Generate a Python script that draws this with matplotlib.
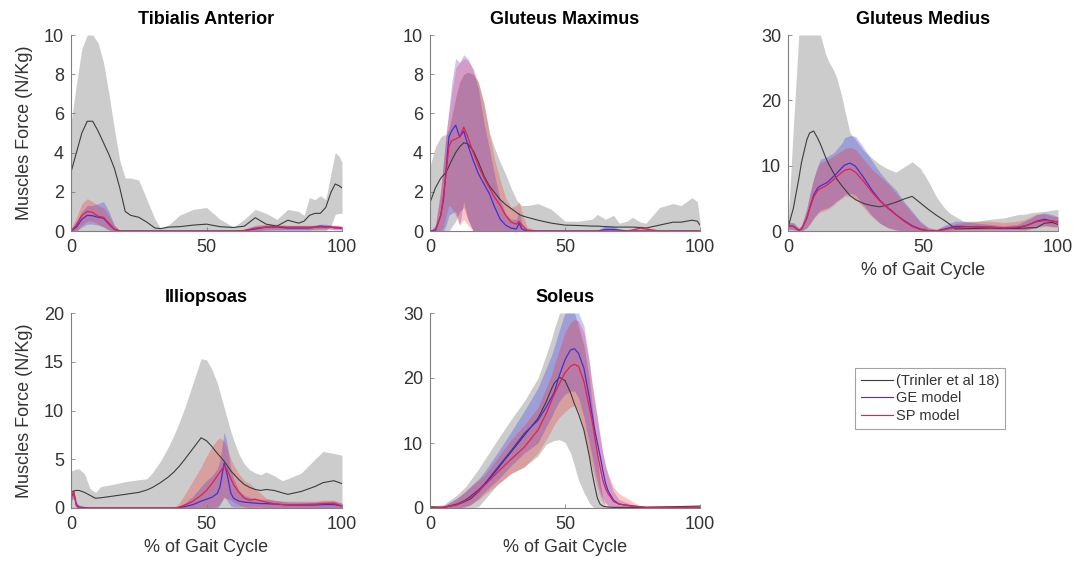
import numpy as np
import matplotlib
matplotlib.use("Agg")
import matplotlib.pyplot as plt

plt.rcParams['font.family'] = ['Liberation Sans', 'DejaVu Sans']

# ---- Tibialis Anterior ----
ta_x = [0, 2, 4, 6, 8, 10, 12, 14, 16, 18, 20, 22, 25, 28, 31, 33, 36, 40, 45, 50, 55, 60,
        64, 68, 72, 76, 80, 84, 86, 88, 90, 92, 94, 96, 97.5, 99, 100]
ta_exp_mean = [3.0, 4.0, 5.0, 5.6, 5.6, 5.1, 4.5, 3.9, 3.2, 2.2, 1.0, 0.8, 0.7, 0.45, 0.15, 0.12, 0.2, 0.22, 0.3, 0.35, 0.22, 0.18,
               0.25, 0.68, 0.35, 0.25, 0.55, 0.4, 0.5, 0.8, 0.9, 0.9, 1.2, 2.0, 2.4, 2.3, 2.2]
ta_exp_hi = [5.5, 7.5, 9.3, 10.0, 10.0, 9.6, 8.6, 7.0, 5.2, 3.6, 2.7, 2.7, 2.6, 1.6, 0.6, 0.15, 0.3, 0.8, 1.1, 1.2, 0.6, 0.2,
             0.6, 1.1, 0.9, 0.6, 1.1, 1.0, 0.8, 1.7, 1.6, 1.8, 1.6, 3.0, 4.0, 3.8, 3.5]
ta_exp_lo = [0, 0, 0, 0, 0, 0, 0, 0, 0, 0, 0, 0, 0, 0, 0, 0, 0, 0, 0, 0, 0, 0,
             0, 0, 0, 0, 0, 0, 0, 0, 0, 0, 0, 0.3, 0.85, 0.9, 0.9]
ta_ge_mean = [0, 0.2, 0.6, 0.8, 0.78, 0.7, 0.65, 0.35, 0.08, 0, 0, 0, 0, 0, 0, 0, 0, 0, 0, 0, 0, 0,
              0.02, 0.1, 0.2, 0.2, 0.15, 0.15, 0.15, 0.15, 0.2, 0.25, 0.22, 0.2, 0.15, 0.15, 0.15]
ta_ge_hi = [0.1, 0.5, 1.0, 1.3, 1.3, 1.4, 1.5, 1.0, 0.3, 0, 0, 0, 0, 0, 0, 0, 0, 0, 0, 0, 0, 0,
            0.1, 0.25, 0.3, 0.3, 0.25, 0.25, 0.25, 0.25, 0.3, 0.35, 0.35, 0.3, 0.25, 0.25, 0.25]
ta_ge_lo = [0, 0, 0.2, 0.35, 0.35, 0.3, 0.2, 0.05, 0, 0, 0, 0, 0, 0, 0, 0, 0, 0, 0, 0, 0, 0,
            0, 0, 0.05, 0.05, 0.05, 0.05, 0.05, 0.05, 0.1, 0.1, 0.1, 0.1, 0.05, 0.05, 0.05]
ta_sp_mean = [0, 0.3, 0.8, 1.0, 0.95, 0.75, 0.7, 0.4, 0.1, 0, 0, 0, 0, 0, 0, 0, 0, 0, 0, 0, 0, 0,
              0.02, 0.15, 0.2, 0.22, 0.2, 0.2, 0.2, 0.2, 0.2, 0.2, 0.2, 0.2, 0.2, 0.18, 0.15]
ta_sp_hi = [0.1, 0.7, 1.4, 1.65, 1.5, 1.3, 1.2, 0.8, 0.3, 0.05, 0, 0, 0, 0, 0, 0, 0, 0, 0, 0, 0, 0,
            0.1, 0.3, 0.35, 0.35, 0.3, 0.3, 0.3, 0.3, 0.3, 0.3, 0.3, 0.3, 0.3, 0.3, 0.25]
ta_sp_lo = [0, 0, 0.3, 0.5, 0.5, 0.35, 0.2, 0.05, 0, 0, 0, 0, 0, 0, 0, 0, 0, 0, 0, 0, 0, 0,
            0, 0.02, 0.05, 0.08, 0.08, 0.08, 0.08, 0.08, 0.08, 0.08, 0.08, 0.08, 0.08, 0.08, 0.05]

# ---- Gluteus Maximus ----
gmax_x = [0, 2, 4, 5, 6, 7, 8, 9.5, 11, 12.5, 14, 16, 18, 20, 22, 24, 26, 28, 30, 32, 33, 34, 36, 40,
          45, 50, 55, 60, 62, 65, 68, 70, 73, 75, 78, 80, 85, 90, 93, 97, 99, 100]
gmax_exp_mean = [1.45, 2.2, 2.7, 2.85, 3.0, 3.3, 3.6, 4.0, 4.3, 4.5, 4.45, 4.1, 3.5, 2.8, 2.3, 1.95, 1.6, 1.35, 1.15, 0.95, 0.85, 0.78, 0.7, 0.55,
                 0.4, 0.3, 0.28, 0.25, 0.25, 0.22, 0.2, 0.2, 0.2, 0.2, 0.18, 0.15, 0.3, 0.45, 0.45, 0.55, 0.5, 0.3]
gmax_exp_hi = [3.3, 4.3, 4.8, 4.9, 4.9, 5.2, 5.8, 6.8, 7.6, 8.0, 8.1, 8.0, 7.6, 6.5, 5.0, 4.2, 3.5, 2.9, 2.2, 1.6, 1.4, 1.3, 1.3, 1.4,
               1.1, 0.5, 0.5, 0.6, 0.85, 0.6, 0.8, 0.4, 0.5, 0.7, 0.45, 0.4, 1.2, 1.4, 1.3, 1.7, 1.5, 0.5]
gmax_exp_lo = [0, 0, 0, 0, 0, 0, 0.2, 0.5, 1.0, 1.2, 0.6, 0, 0, 0, 0, 0, 0, 0, 0, 0, 0, 0, 0, 0,
               0, 0, 0, 0, 0, 0, 0, 0, 0, 0, 0, 0, 0, 0, 0, 0, 0, 0]
gmax_ge_mean = [0, 0.05, 0.8, 1.6, 3.2, 4.8, 5.1, 5.4, 4.8, 5.1, 4.4, 3.6, 2.9, 2.4, 1.9, 1.2, 0.6, 0.3, 0.15, 0.1, 0.4, 0.1, 0, 0,
                0, 0, 0, 0, 0, 0.08, 0.08, 0.05, 0, 0, 0, 0, 0, 0, 0, 0, 0, 0]
gmax_ge_hi = [0, 0.3, 2.0, 3.5, 5.0, 6.2, 7.5, 8.8, 8.6, 9.0, 8.8, 8.2, 7.2, 5.5, 4.2, 2.8, 1.6, 0.9, 0.6, 0.6, 1.0, 0.4, 0, 0,
              0, 0, 0, 0, 0, 0.3, 0.25, 0.1, 0, 0, 0, 0, 0, 0, 0, 0, 0, 0]
gmax_ge_lo = [0, 0, 0, 0, 0.3, 0.8, 0.9, 1.0, 0.3, 1.5, 0.6, 0, 0, 0, 0, 0, 0, 0, 0, 0, 0, 0, 0, 0,
              0, 0, 0, 0, 0, 0, 0, 0, 0, 0, 0, 0, 0, 0, 0, 0, 0, 0]
gmax_sp_mean = [0, 0, 0.8, 1.8, 3.0, 4.3, 4.6, 4.7, 4.8, 5.3, 4.8, 4.0, 3.3, 2.7, 2.2, 1.7, 1.3, 0.8, 0.45, 0.35, 0.5, 0.3, 0.05, 0,
                0, 0, 0, 0, 0, 0, 0, 0, 0, 0.05, 0.15, 0.1, 0, 0, 0, 0, 0, 0]
gmax_sp_hi = [0, 0.2, 2.2, 3.6, 5.0, 6.0, 7.0, 8.3, 8.6, 8.8, 8.7, 8.3, 7.5, 6.5, 5.0, 3.6, 2.6, 1.7, 1.2, 1.3, 1.5, 1.0, 0.2, 0,
              0, 0, 0, 0, 0, 0, 0, 0, 0, 0.1, 0.25, 0.2, 0, 0, 0, 0, 0, 0]
gmax_sp_lo = [0, 0, 0, 0.2, 0.8, 1.3, 1.2, 0.8, 0.3, 0.6, 0.3, 0, 0, 0, 0, 0, 0, 0, 0, 0, 0, 0, 0, 0,
              0, 0, 0, 0, 0, 0, 0, 0, 0, 0, 0, 0, 0, 0, 0, 0, 0, 0]

# ---- Gluteus Medius ----
gmed_x = [0, 2, 4, 5, 7, 8, 9.5, 11, 12, 14, 15, 17, 18, 20, 21, 23, 25, 28, 31, 34, 37, 40, 43, 46, 49,
          52, 55, 58, 60, 62, 65, 70, 75, 80, 85, 88, 90, 92, 95, 98, 100]
gmed_exp_mean = [0.5, 3.5, 8.0, 10.5, 14.0, 15.0, 15.3, 14.2, 13.3, 11.2, 10.3, 8.8, 8.0, 6.9, 6.4, 5.4, 4.8, 4.2, 3.9, 3.7, 4.0, 4.4, 4.9, 5.3, 4.3,
                 3.3, 2.4, 1.6, 1.0, 0.3, 0.35, 0.4, 0.45, 0.4, 0.4, 0.45, 0.5, 0.5, 1.2, 1.3, 1.0]
gmed_exp_hi = [1.0, 16.0, 30, 30, 30, 30, 30, 30, 30, 27, 26, 24.5, 23.5, 20.5, 18.5, 15, 14, 12.3, 11.2, 10.2, 9.5, 9.0, 9.8, 10.6, 9.6,
               7.6, 5.2, 3.5, 2.7, 2.2, 1.5, 1.5, 1.8, 2.0, 2.5, 2.6, 2.8, 2.9, 3.0, 3.2, 3.3]
gmed_exp_lo = [0, 0, 0, 0, 0, 0, 0, 0, 0, 0, 0, 0, 0, 0, 0, 0, 0, 0, 0, 0, 0, 0, 0, 0, 0,
               0, 0, 0, 0, 0, 0, 0, 0, 0, 0, 0, 0, 0, 0, 0, 0]
gmed_ge_mean = [0.8, 0.7, 0.1, 0.3, 2.0, 3.5, 5.5, 6.6, 6.9, 7.3, 7.6, 8.4, 8.8, 9.7, 10.1, 10.4, 9.9, 8.2, 6.3, 4.7, 3.5, 2.5, 1.6, 0.8, 0.3,
                0.05, 0.0, 0.3, 0.5, 0.7, 0.7, 0.6, 0.6, 0.4, 0.5, 0.8, 1.1, 1.5, 1.8, 1.5, 1.4]
gmed_ge_hi = [1.3, 1.3, 0.5, 0.8, 3.5, 5.5, 8.0, 10.0, 11.0, 11.3, 11.5, 12.0, 12.5, 13.5, 14.3, 14.6, 14.5, 12.8, 10.8, 9.0, 7.5, 6.3, 4.5, 3.0, 1.5,
              0.5, 0.2, 0.9, 1.2, 1.5, 1.5, 1.2, 1.0, 0.8, 1.0, 1.6, 2.0, 2.5, 2.8, 2.5, 2.2]
gmed_ge_lo = [0.3, 0.2, 0, 0, 0.5, 1.0, 2.0, 2.8, 3.2, 3.5, 3.6, 4.2, 4.6, 5.2, 5.6, 5.8, 5.5, 4.0, 2.4, 1.2, 0.5, 0.2, 0, 0, 0,
              0, 0, 0, 0.1, 0.2, 0.2, 0.2, 0.2, 0.2, 0.2, 0.2, 0.4, 0.6, 0.9, 0.7, 0.6]
gmed_sp_mean = [0.8, 0.7, 0.1, 0.3, 2.0, 3.4, 5.2, 6.2, 6.5, 6.9, 7.2, 7.9, 8.3, 9.0, 9.3, 9.5, 9.0, 7.6, 6.0, 4.6, 3.6, 2.5, 1.5, 0.7, 0.2,
                0.05, 0, 0.2, 0.4, 0.5, 0.6, 0.7, 0.6, 0.5, 0.6, 0.8, 1.1, 1.4, 1.6, 1.5, 1.4]
gmed_sp_hi = [1.3, 1.2, 0.4, 0.8, 3.5, 5.5, 8.0, 9.8, 10.5, 10.8, 11.0, 11.5, 11.8, 12.3, 12.6, 12.8, 12.5, 11.0, 9.5, 8.4, 7.3, 5.8, 4.2, 2.8, 1.3,
              0.5, 0.3, 0.7, 0.9, 1.1, 1.3, 1.5, 1.5, 1.3, 1.5, 1.8, 2.2, 2.6, 2.6, 2.3, 2.1]
gmed_sp_lo = [0.3, 0.2, 0, 0, 0.5, 1.0, 1.9, 2.6, 2.9, 3.2, 3.4, 4.0, 4.4, 5.0, 5.3, 5.4, 4.9, 3.6, 2.2, 1.2, 0.5, 0.1, 0, 0, 0,
              0, 0, 0, 0, 0.1, 0.1, 0.1, 0.1, 0.1, 0.1, 0.1, 0.3, 0.5, 0.7, 0.6, 0.6]

# ---- Illiopsoas ----
ilio_x = [0, 1, 2, 3, 5, 7, 9, 11, 15, 20, 25, 28, 30, 33, 36, 38, 40, 42, 45, 48, 50, 52, 54, 55, 56.5,
          57.5, 59, 60, 62, 64, 66, 68, 70, 72, 75, 78, 80, 85, 90, 93, 97, 100]
ilio_exp_mean = [1.6, 1.75, 1.8, 1.8, 1.6, 1.3, 1.0, 1.05, 1.2, 1.4, 1.6, 1.85, 2.1, 2.6, 3.2, 3.7, 4.3, 5.0, 6.1, 7.2, 6.9, 6.3, 5.6, 5.3, 4.8,
                 4.4, 3.8, 3.5, 2.9, 2.4, 2.1, 1.9, 1.8, 1.9, 1.8, 1.55, 1.4, 1.7, 2.2, 2.6, 2.8, 2.5]
ilio_exp_hi = [3.8, 3.9, 4.0, 4.0, 3.5, 2.0, 1.6, 2.2, 2.4, 2.7, 2.9, 3.0, 3.6, 4.8, 6.3, 7.5, 8.8, 10.3, 12.8, 15.3, 15.2, 14.2, 12.8, 11.8, 10.3,
               9.3, 7.8, 7.0, 5.5, 4.5, 3.9, 3.6, 3.4, 3.7, 3.3, 2.8, 3.0, 3.6, 5.0, 5.8, 5.6, 5.4]
ilio_exp_lo = [0, 0, 0, 0, 0, 0, 0, 0, 0, 0, 0, 0, 0, 0, 0, 0, 0, 0, 0, 0, 0, 0, 0, 0, 0,
               0, 0, 0, 0, 0, 0, 0, 0, 0, 0, 0, 0, 0, 0, 0, 0, 0]
ilio_ge_mean = [1.2, 1.5, 0.3, 0.1, 0.05, 0, 0, 0, 0, 0, 0, 0, 0, 0, 0, 0, 0.05, 0.15, 0.35, 0.7, 0.9, 1.1, 1.5, 2.2, 4.6,
                3.6, 1.5, 1.0, 0.7, 0.6, 0.55, 0.5, 0.45, 0.45, 0.4, 0.35, 0.3, 0.3, 0.3, 0.35, 0.35, 0.2]
ilio_ge_hi = [1.5, 1.8, 0.6, 0.3, 0.1, 0, 0, 0, 0, 0, 0, 0, 0, 0, 0, 0, 0.2, 0.5, 1.2, 2.2, 2.8, 3.3, 4.0, 5.0, 7.8,
              6.8, 4.0, 3.0, 1.8, 1.3, 1.1, 1.0, 0.9, 0.9, 0.8, 0.7, 0.6, 0.6, 0.6, 0.7, 0.7, 0.5]
ilio_ge_lo = [0.8, 1.0, 0.1, 0, 0, 0, 0, 0, 0, 0, 0, 0, 0, 0, 0, 0, 0, 0, 0, 0, 0, 0, 0, 0.3, 1.2,
              0.8, 0.2, 0.1, 0.1, 0.1, 0.1, 0.1, 0.1, 0.05, 0.05, 0.05, 0.05, 0, 0, 0, 0, 0]
ilio_sp_mean = [1.0, 1.7, 0.2, 0.05, 0, 0, 0, 0, 0, 0, 0, 0, 0, 0, 0, 0, 0.1, 0.3, 0.7, 1.3, 1.8, 2.5, 3.3, 3.7, 4.3,
                4.0, 3.0, 2.4, 1.6, 1.0, 0.8, 0.9, 0.75, 0.6, 0.45, 0.35, 0.3, 0.35, 0.4, 0.45, 0.5, 0.2]
ilio_sp_hi = [1.4, 2.0, 0.5, 0.2, 0, 0, 0, 0, 0, 0, 0, 0, 0, 0, 0, 0, 0.5, 1.4, 2.8, 4.2, 5.3, 6.3, 7.0, 7.2, 6.8,
              6.2, 5.0, 4.4, 3.5, 2.8, 2.5, 2.0, 1.5, 1.0, 0.8, 0.7, 0.7, 0.7, 0.7, 0.8, 0.8, 0.5]
ilio_sp_lo = [0.6, 1.2, 0, 0, 0, 0, 0, 0, 0, 0, 0, 0, 0, 0, 0, 0, 0, 0, 0, 0, 0, 0, 0.2, 0.5, 1.0,
              1.0, 0.8, 0.6, 0.3, 0.1, 0, 0, 0, 0, 0, 0, 0, 0, 0, 0, 0, 0]

# ---- Soleus ----
sol_x = [0, 5, 10, 13, 15, 18, 20, 25, 30, 35, 40, 43, 45, 46, 48, 50, 52, 53.5, 55, 57, 59, 60, 61, 62,
         63, 64, 65, 66, 68, 70, 75, 78, 80, 90, 100]
sol_exp_mean = [0.2, 0.1, 0.5, 1.0, 1.4, 2.5, 3.5, 6.0, 8.6, 11.2, 13.8, 16.3, 18.3, 19.2, 20.1, 19.6, 17.8, 16.0, 14.5, 12.0, 8.0, 5.5, 3.4, 1.5,
                0.6, 0.3, 0.2, 0.15, 0.1, 0.1, 0.1, 0.1, 0.1, 0.2, 0.3]
sol_exp_hi = [0.3, 0.5, 2.0, 3.2, 4.3, 6.0, 7.3, 10.5, 13.6, 16.5, 20.0, 23.5, 26, 27.5, 30, 30, 30, 30, 28, 25, 20, 16, 12, 8,
              4, 1.5, 0.4, 0.3, 0.2, 0.2, 0.2, 0.2, 0.2, 0.3, 0.4]
sol_exp_lo = [0, 0, 0, 0, 0, 0.2, 1.2, 3.6, 5.3, 6.4, 8.0, 9.8, 10.2, 10.4, 10.5, 10.1, 8.5, 6.5, 4.3, 2.4, 0.8, 0.3, 0, 0,
              0, 0, 0, 0, 0, 0, 0, 0, 0, 0, 0]
sol_ge_mean = [0, 0.1, 0.6, 1.2, 1.8, 2.8, 3.6, 6.2, 8.8, 11.5, 13.5, 15.5, 17.0, 17.8, 20.5, 22.8, 24.3, 24.5, 23.8, 21.5, 17.0, 14.5, 12.0, 10.0,
               8.0, 5.8, 3.8, 2.6, 1.2, 0.6, 0.3, 0.2, 0.1, 0.1, 0.1]
sol_ge_hi = [0.1, 0.3, 1.5, 2.5, 3.3, 4.5, 5.5, 8.5, 11.7, 15, 18.5, 21.5, 23.5, 24.8, 27.5, 30, 30, 30, 30, 28, 22.5, 19, 16.5, 14,
             11, 8.5, 6.5, 5.0, 2.5, 1.3, 0.5, 0.3, 0.2, 0.1, 0.1]
sol_ge_lo = [0, 0, 0, 0.2, 0.5, 1.5, 2.4, 4.3, 6.5, 8.5, 10, 12.5, 14, 15, 16.5, 17.5, 18, 18, 17, 14, 10, 8, 6, 4,
             2.5, 1.5, 0.8, 0.4, 0.1, 0, 0, 0, 0, 0, 0]
sol_sp_mean = [0, 0.1, 0.5, 1.1, 1.6, 2.6, 3.4, 5.5, 7.5, 9.4, 12.0, 14.5, 16.5, 17.5, 19.2, 20.8, 21.8, 22.1, 21.8, 19.5, 15.5, 13.5, 11, 8.5,
               6.3, 4.3, 3.0, 2.2, 1.0, 0.6, 0.3, 0.15, 0.1, 0.1, 0.1]
sol_sp_hi = [0.1, 0.3, 1.5, 2.5, 3.3, 4.3, 5.0, 7.7, 10.5, 12.8, 15.5, 18.5, 20.5, 22, 24.5, 27, 28.5, 29, 28.8, 27, 22.5, 19.5, 16.5, 13.5,
             11, 8.5, 6.5, 5.2, 3.2, 2.2, 1.0, 0.3, 0.1, 0.1, 0.1]
sol_sp_lo = [0, 0, 0, 0.2, 0.5, 1.3, 2.0, 3.6, 5.3, 6.3, 8.5, 10.5, 12.0, 12.8, 14, 14.8, 15.5, 15.8, 15, 12, 8, 6.3, 4.5, 3,
             1.8, 1.0, 0.5, 0.2, 0, 0, 0, 0, 0, 0, 0]

legend_labels = ['(Trinler et al 18)', 'GE model', 'SP model']

GRAY_FILL = '#cccccc'
EXP_LINE = '#3c3c3c'
GE_COLOR = '#4130d8'
SP_COLOR = '#ea1f45'
GE_FILL = '#0000ff'
SP_FILL = '#ff1010'
AX_COLOR = '#808080'
TXT_COLOR = '#333333'
FS = 13

W, H = 1078, 561
fig = plt.figure(figsize=(W / 100, H / 100), dpi=100)


def panel(left_px, top_px, right_px, bottom_px):
    return fig.add_axes([left_px / W, 1 - bottom_px / H,
                         (right_px - left_px) / W, (bottom_px - top_px) / H])


def draw(ax, x, exp, ge, sp, ymax, yticks, title, ylabel=False, xlabel=False):
    x = np.asarray(x)
    mean, lo, hi = exp
    ax.fill_between(x, lo, hi, color=GRAY_FILL, lw=0)
    h0, = ax.plot(x, mean, color=EXP_LINE, lw=0.8)
    mean, lo, hi = ge
    ax.fill_between(x, lo, hi, color=GE_FILL, alpha=0.22, lw=0)
    h1, = ax.plot(x, mean, color=GE_COLOR, lw=0.9)
    mean, lo, hi = sp
    ax.fill_between(x, lo, hi, color=SP_FILL, alpha=0.24, lw=0)
    h2, = ax.plot(x, mean, color=SP_COLOR, lw=0.9)

    ax.set_xlim(0, 100)
    ax.set_ylim(0, ymax)
    ax.set_xticks([0, 50, 100])
    ax.set_yticks(yticks)
    for s in ['top', 'right']:
        ax.spines[s].set_visible(False)
    for s in ['left', 'bottom']:
        ax.spines[s].set_color(AX_COLOR)
        ax.spines[s].set_linewidth(0.8)
    ax.tick_params(direction='in', length=3, width=0.6, color=AX_COLOR,
                   labelsize=FS, labelcolor=TXT_COLOR)
    ax.tick_params(axis='x', pad=6)
    ax.tick_params(axis='y', pad=5)
    ax.set_title(title, fontsize=FS, fontweight='bold', color='black', pad=8)
    if ylabel:
        ax.set_ylabel('Muscles Force (N/Kg)', fontsize=FS, color=TXT_COLOR, labelpad=8)
    if xlabel:
        ax.set_xlabel('% of Gait Cycle', fontsize=FS, color=TXT_COLOR, labelpad=4)
    return h0, h1, h2


ax1 = panel(71, 35, 342, 231)
handles = draw(ax1, ta_x, (ta_exp_mean, ta_exp_lo, ta_exp_hi), (ta_ge_mean, ta_ge_lo, ta_ge_hi),
               (ta_sp_mean, ta_sp_lo, ta_sp_hi), 10, [0, 2, 4, 6, 8, 10], 'Tibialis Anterior', ylabel=True)

ax2 = panel(430, 35, 700, 231)
draw(ax2, gmax_x, (gmax_exp_mean, gmax_exp_lo, gmax_exp_hi), (gmax_ge_mean, gmax_ge_lo, gmax_ge_hi),
     (gmax_sp_mean, gmax_sp_lo, gmax_sp_hi), 10, [0, 2, 4, 6, 8, 10], 'Gluteus Maximus')

ax3 = panel(788, 35, 1058, 231)
draw(ax3, gmed_x, (gmed_exp_mean, gmed_exp_lo, gmed_exp_hi), (gmed_ge_mean, gmed_ge_lo, gmed_ge_hi),
     (gmed_sp_mean, gmed_sp_lo, gmed_sp_hi), 30, [0, 10, 20, 30], 'Gluteus Medius', xlabel=True)

ax4 = panel(71, 313, 342, 508)
draw(ax4, ilio_x, (ilio_exp_mean, ilio_exp_lo, ilio_exp_hi), (ilio_ge_mean, ilio_ge_lo, ilio_ge_hi),
     (ilio_sp_mean, ilio_sp_lo, ilio_sp_hi), 20, [0, 5, 10, 15, 20], 'Illiopsoas', ylabel=True, xlabel=True)

ax5 = panel(430, 313, 700, 508)
draw(ax5, sol_x, (sol_exp_mean, sol_exp_lo, sol_exp_hi), (sol_ge_mean, sol_ge_lo, sol_ge_hi),
     (sol_sp_mean, sol_sp_lo, sol_sp_hi), 30, [0, 10, 20, 30], 'Soleus', xlabel=True)

leg = fig.legend(handles, legend_labels, loc='upper left',
                 bbox_to_anchor=(855 / W, 1 - 368 / H), borderaxespad=0,
                 fontsize=10.5, frameon=True, fancybox=False, handlelength=2.2,
                 handletextpad=0.2, labelspacing=0.25, borderpad=0.4)
leg.get_frame().set_edgecolor('#8c8c8c')
leg.get_frame().set_linewidth(0.8)
for line in leg.get_lines():
    line.set_linewidth(0.8)
for t in leg.get_texts():
    t.set_color(TXT_COLOR)

fig.savefig('out.png', dpi=100, facecolor='white')
